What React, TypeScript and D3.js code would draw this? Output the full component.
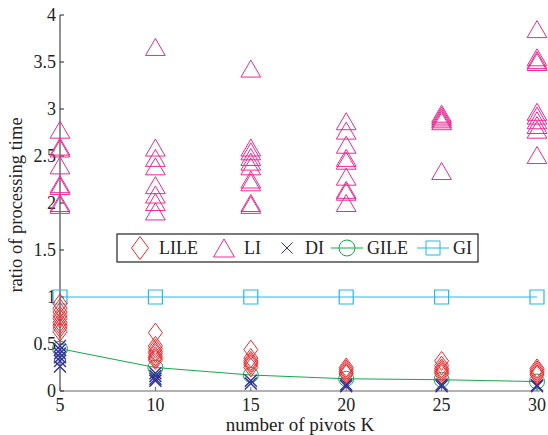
import React from 'react';
import * as d3 from 'd3';

// pivots K on the x axis
const ks = [5, 10, 15, 20, 25, 30];
const yTicks = [0, 0.5, 1, 1.5, 2, 2.5, 3, 3.5, 4];

// one list of ratios per K
const liValues = [
    [2.78, 2.6, 2.58, 2.4, 2.2, 2.18, 2.0, 1.98],
    [3.66, 2.59, 2.48, 2.39, 2.19, 2.09, 2.01, 1.91],
    [3.43, 2.59, 2.55, 2.49, 2.44, 2.39, 2.25, 2.22, 2.0, 1.98],
    [2.87, 2.77, 2.62, 2.48, 2.45, 2.28, 2.14, 2.12, 2.0],
    [2.95, 2.93, 2.91, 2.89, 2.87, 2.34],
    [3.85, 3.55, 3.52, 3.5, 2.97, 2.93, 2.88, 2.83, 2.78, 2.51]
];
const lileValues = [
    [0.93, 0.88, 0.84, 0.8, 0.77, 0.73, 0.7, 0.67, 0.63],
    [0.62, 0.48, 0.45, 0.42, 0.4, 0.37, 0.35, 0.33],
    [0.44, 0.35, 0.32, 0.3, 0.28, 0.25],
    [0.25, 0.23, 0.21, 0.19, 0.18],
    [0.32, 0.27, 0.24, 0.22, 0.2, 0.18],
    [0.24, 0.22, 0.2, 0.18, 0.17]
];
const diValues = [
    [0.48, 0.44, 0.4, 0.36, 0.32, 0.26],
    [0.19, 0.16, 0.13, 0.11],
    [0.11, 0.08],
    [0.07, 0.05],
    [0.07, 0.05],
    [0.06, 0.05]
];
const gileValues = [0.45, 0.25, 0.17, 0.13, 0.12, 0.1];
const giValues = [1, 1, 1, 1, 1, 1];

const legendNames = ['LILE', 'LI', 'DI', 'GILE', 'GI'];

const RED = '#ec2a2f';
const MAGENTA = '#ea2a92';
const BLUE = '#2e3192';
const GREEN = '#14a84b';
const CYAN = '#29b6e8';

const W = 548, H = 435;
const font = '"Liberation Serif", "Times New Roman", serif';

const triangle = (s: number) => `M0,${-s * 0.5}L${s * 0.58},${s * 0.5}L${-s * 0.58},${s * 0.5}Z`;
const diamond = (h: number, w: number) => `M0,${-h / 2}L${w / 2},0L0,${h / 2}L${-w / 2},0Z`;
const cross = (s: number) => `M${-s / 2},${-s / 2}L${s / 2},${s / 2}M${s / 2},${-s / 2}L${-s / 2},${s / 2}`;
const square = (s: number) => `M${-s / 2},${-s / 2}h${s}v${s}h${-s}Z`;

export default function App() {
    const x = d3.scaleLinear().domain([5, 30]).range([60, 537]);
    const y = d3.scaleLinear().domain([0, 4]).range([391, 15]);

    const gileLine = d3.line<number>().x((d, i) => x(ks[i])).y(d => y(d))(gileValues) || '';
    const giLine = d3.line<number>().x((d, i) => x(ks[i])).y(d => y(d))(giValues) || '';

    const marks = (vals: number[][], path: string, color: string, key: string, sw = 1) =>
        vals.flatMap((col, i) => col.map((v, j) => (
            <path key={`${key}${i}-${j}`} d={path} transform={`translate(${x(ks[i])},${y(v)})`}
                  fill="none" stroke={color} strokeWidth={sw}/>
        )));

    // legend layout
    const lx = 117, ly = 234, lw = 361, lh = 28, lcy = ly + lh / 2;
    const legendItems = [
        {sym: 140, text: 159, color: RED, path: diamond(23, 17), line: false},
        {sym: 224, text: 244, color: MAGENTA, path: triangle(18), line: false},
        {sym: 287, text: 305, color: BLUE, path: cross(11), line: false},
        {sym: 347, text: 367, color: GREEN, path: d3.symbol(d3.symbolCircle, 200)() || '', line: true},
        {sym: 433, text: 453, color: CYAN, path: square(14), line: true}
    ];

    return (
        <svg width={W} height={H} style={{position: 'absolute', left: 0, top: 0, background: '#fff'}}
             fontFamily={font}>
            {/* axes */}
            <line x1={60} x2={60} y1={15} y2={391} stroke="#222" strokeWidth={1}/>
            <line x1={60} x2={540} y1={391} y2={391} stroke="#666" strokeWidth={1.2}/>
            {yTicks.map(t => (
                <g key={'yt' + t}>
                    <line x1={60} x2={64} y1={y(t)} y2={y(t)} stroke="#222"/>
                    <text x={56} y={y(t)} dy="0.35em" textAnchor="end" fontSize={18} fill="#222">{t}</text>
                </g>
            ))}
            {ks.map(k => (
                <g key={'xt' + k}>
                    <line x1={x(k)} x2={x(k)} y1={391} y2={387} stroke="#666"/>
                    <text x={x(k)} y={411} textAnchor="middle" fontSize={18} fill="#222">{k}</text>
                </g>
            ))}
            <text x={300} y={431} textAnchor="middle" fontSize={19} fill="#222">number of pivots  K</text>
            <text transform={`translate(22,205) rotate(-90)`} textAnchor="middle" fontSize={18.5}
                  fill="#222">ratio of processing time</text>

            {/* GI */}
            <path d={giLine} fill="none" stroke={CYAN} strokeWidth={1}/>
            {giValues.map((v, i) => (
                <path key={'gi' + i} d={square(14)} transform={`translate(${x(ks[i])},${y(v)})`}
                      fill="none" stroke={CYAN} strokeWidth={1.2}/>
            ))}

            {marks(liValues, triangle(17), MAGENTA, 'li')}

            {/* GILE */}
            <path d={gileLine} fill="none" stroke={GREEN} strokeWidth={1}/>
            {gileValues.map((v, i) => (
                <circle key={'gile' + i} cx={x(ks[i])} cy={y(v)} r={7.5} fill="none" stroke={GREEN}
                        strokeWidth={1}/>
            ))}

            {marks(diValues, cross(12), BLUE, 'di', 1.4)}
            {marks(lileValues, diamond(19, 14), RED, 'lile')}

            {/* legend */}
            <rect x={lx} y={ly} width={lw} height={lh} fill="#fff" stroke="#222" strokeWidth={1.2}/>
            {legendItems.map((it, i) => (
                <g key={'lg' + i}>
                    {it.line && <line x1={it.sym - 16} x2={it.sym + 16} y1={lcy} y2={lcy} stroke={it.color}/>}
                    <path d={it.path} transform={`translate(${it.sym},${lcy})`} fill="none" stroke={it.color}
                          strokeWidth={1}/>
                    <text x={it.text} y={lcy} dy="0.35em" fontSize={18} fill="#222">{legendNames[i]}</text>
                </g>
            ))}
        </svg>
    );
}
